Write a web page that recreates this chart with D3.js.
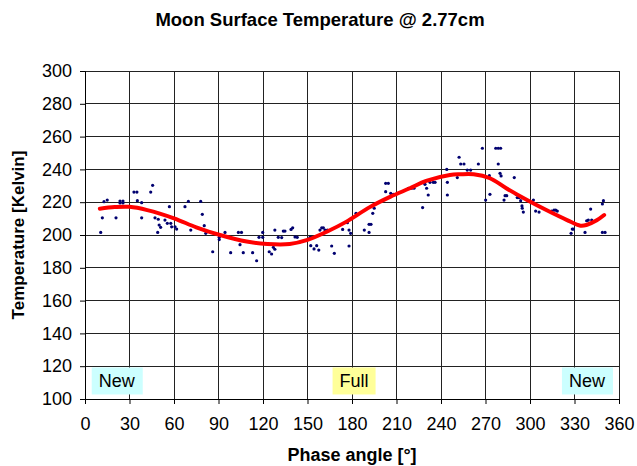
<!DOCTYPE html>
<html><head><meta charset="utf-8">
<script src="https://cdn.jsdelivr.net/npm/d3@7/dist/d3.min.js"></script>
<style>body{margin:0;background:#fff;} text{font-family:"Liberation Sans",Arial,sans-serif;}</style>
</head><body><svg id="c" width="637" height="466"></svg>
<script>
const title = "Moon Surface Temperature @ 2.77cm";
const xTitle = "Phase angle [°]";
const yTitle = "Temperature [Kelvin]";
const xTicks = [0,30,60,90,120,150,180,210,240,270,300,330,360];
const yTicks = [100,120,140,160,180,200,220,240,260,280,300];

// measured points: phase angle (deg), temperature (K)
const obsPhase = [10.6,11.7,12.8,15,20.9,23.6,25.6,23.6,25.6,33,35,35.3,38.2,44.3,45.6,38.2,47.2,49.4,50,51,49,53.9,55.5,57.8,58.4,60.7,61.8,56.9,67.4,69.7,71.3,78,79.1,80.4,81.4,86.1,90.5,90.5,94.4,98.2,103.4,105.5,104.5,106.7,113,115.7,117.3,119.8,119.8,124.2,125.8,128,130.3,127,128,
 133.7,134.8,138.9,140,132.6,141.6,143.1,151.7,152.8,152.2,154.4,156.2,157.6,158.4,159.6,160.7,161.8,163.4,166.3,168.1,173.7,176.9,178,179.1,178,182.7,188.3,191.5,192.8,191.5,194,195,202.7,204.5,202.7,206.1,207.9,218,220.2,221.8,227.6,229.2,231.4,230.3,232.6,234.8,236,243.9,244.3,244.3,
 251,252.2,253.3,255.5,257.7,260,265.2,267.9,270.1,272.6,273,276.9,278.6,280.2,278.6,279.8,280.5,282.5,283.2,284.3,289.4,290.6,291.4,292.6,293.7,294.6,294.8,295.5,302.3,303.8,306.1,314.6,316.2,317.3,318.4,325.8,327.7,328.5,329.2,337.1,338.2,339.3,340.9,341.6,348.8,349.5,348.8,350.6];
const obsTemp = [201.6,210.5,220.3,221.3,210.5,220.7,220.7,219.5,219.5,226.2,226.2,220.9,219.7,226.2,230.3,210.5,210.5,209.6,206.1,204.7,201.6,209.1,207.1,207.1,205,205,203.6,217.3,217.3,220.5,203,220.5,212.6,205.7,201,189.8,198.6,197.2,201.6,189.2,201.6,201.6,194.1,189.2,189.2,184.3,198.6,198.6,201.6,189.8,188.4,203,198.6,192.5,191.3,
 202.4,202.4,203.4,204.4,198.4,198.8,198.6,198.6,198.6,193.5,191.5,193.5,190.8,203,204.4,204.4,203,203,193.3,188.8,203.4,207.5,193.3,201,203,213.2,203,206.5,206.5,201.6,213.2,216.3,231.5,231.5,226.4,225.4,224.8,228.5,228.5,228.5,216.7,230.9,224.4,228.5,232.1,232.1,232.1,240,232.1,224.4,
 235,247.4,243.3,243.3,239.6,239.6,243.3,252.9,221.3,236.2,224.8,252.9,252.9,252.9,243.3,237.6,236,221.3,224,224,235,224.8,222.8,222.8,220.9,217.7,216.3,214,221.3,214.6,214,214.6,215.2,215.2,214.6,208.7,201,203.6,203.6,201.6,208.7,209.1,215.8,209.1,218.9,220.9,201.6,201.6];

// smoothed fit curve
const fitPhase = [10,20,30,42,60,75,91,109,123,138,150,163,176,192,206,219,230,246,253,262,273,284,298,311,325,334,338,345,350];
const fitTemp  = [216,217,217.2,215.2,210.2,204.7,200,196,194.5,194.5,197,202,208,217,223.4,228.5,233,236.6,237,237,234.6,228.5,221.3,215.2,209.1,205.7,206.1,209,212.2];

const markerText = ["New","Full","New"];
const markerPhase = [21.4,181.4,338.4];
const markerTemp = 111;
const markerFill = ["#ccffff","#ffff99","#ccffff"];

const svg = d3.select("#c");
const m = {l:85, r:18, t:71, b:67};
const W = 637, H = 466;
const x = d3.scaleLinear().domain([0,360]).range([m.l, W-m.r]);
const y = d3.scaleLinear().domain([100,300]).range([H-m.b, m.t]);

// grid
svg.append("g").selectAll("line.v").data(xTicks).join("line")
  .attr("x1",d=>x(d)).attr("x2",d=>x(d)).attr("y1",y(100)).attr("y2",y(300))
  .attr("stroke","#222").attr("stroke-width",1).attr("shape-rendering","crispEdges");
svg.append("g").selectAll("line.h").data(yTicks).join("line")
  .attr("x1",x(0)).attr("x2",x(360)).attr("y1",d=>y(d)).attr("y2",d=>y(d))
  .attr("stroke","#222").attr("stroke-width",1).attr("shape-rendering","crispEdges");

// axes
const xa = svg.append("g").attr("transform",`translate(0,${y(100)})`)
  .call(d3.axisBottom(x).tickValues(xTicks).tickSize(5).tickPadding(13));
const ya = svg.append("g").attr("transform",`translate(${x(0)},0)`)
  .call(d3.axisLeft(y).tickValues(yTicks).tickSize(5).tickPadding(8));
[xa,ya].forEach(a=>{
  a.select(".domain").attr("stroke","#000");
  a.selectAll(".tick line").attr("stroke","#000");
  a.selectAll("text").attr("font-family","Liberation Sans, Arial, sans-serif").attr("font-size",18).attr("fill","#000");
});

// markers
const mk = svg.append("g");
markerText.forEach((t,i)=>{
  const tx = mk.append("text").attr("x",x(markerPhase[i])).attr("y",y(markerTemp)).attr("text-anchor","middle")
    .attr("dominant-baseline","central").attr("font-size",18).attr("fill","#000").text(t);
  const bb = tx.node().getBBox();
  mk.insert("rect","text").attr("x",bb.x-7).attr("y",y(markerTemp)-13.5).attr("width",bb.width+14).attr("height",27)
    .attr("fill",markerFill[i]);
});

// points
svg.append("g").selectAll("circle").data(obsPhase.map((p,i)=>[p,obsTemp[i]])).join("circle")
  .attr("cx",d=>x(d[0])).attr("cy",d=>y(d[1])).attr("r",1.6).attr("fill","#000070");

// fit
svg.append("path").datum(fitPhase.map((p,i)=>[p,fitTemp[i]]))
  .attr("d",d3.line().x(d=>x(d[0])).y(d=>y(d[1])).curve(d3.curveCatmullRom.alpha(0.5)))
  .attr("fill","none").attr("stroke","#ff0000").attr("stroke-width",4).attr("stroke-linecap","round");

// titles
svg.append("text").attr("x",320).attr("y",26).attr("text-anchor","middle").attr("font-weight","bold").attr("font-size",18.5).text(title);
svg.append("text").attr("x",352).attr("y",461).attr("text-anchor","middle").attr("font-weight","bold").attr("font-size",18).text(xTitle);
svg.append("text").attr("transform",`translate(24,${(y(100)+y(300))/2}) rotate(-90)`).attr("text-anchor","middle").attr("font-weight","bold").attr("font-size",17).text(yTitle);
</script></body></html>
